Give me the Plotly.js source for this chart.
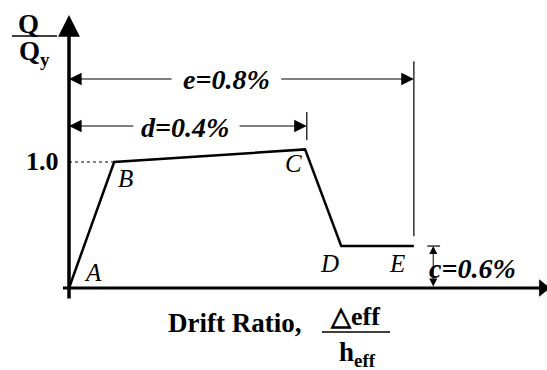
<!DOCTYPE html>
<html>
<head>
<meta charset="utf-8">
<script src="https://cdn.plot.ly/plotly-3.0.1.min.js"></script>
<style>
  html, body { margin: 0; padding: 0; background: #fff; }
  #plot { width: 547px; height: 370px; }
</style>
</head>
<body>
<div id="plot"></div>
<script>
// schematic backbone curve, drift in sketch units, force normalised by Qy
const pointLabels = ['A', 'B', 'C', 'D', 'E'];
const driftX = [0, 0.105, 0.549, 0.633, 0.802];
const forceY = [0, 1.0, 1.10, 0.333, 0.333];

// dimension labels
const dimD = 'd=0.4%';
const dimE = 'e=0.8%';
const dimC = 'c=0.6%';
const yieldTick = '1.0';

const W = 547;
const H = 370;
const FONT = 'Liberation Serif';

// axis ranges chosen so that the sketch fills the frame (no margins)
const xRange = [-0.1605, 1.1116];
const yRange = [-0.651, 2.286];

// paper position from pixel position
function at (px, py) {
  return { xref: 'paper', yref: 'paper', x: px / W, y: 1 - py / H };
}

function label (px, py, text, size, extra) {
  return Object.assign(at(px, py), {
    text,
    showarrow: false,
    xanchor: 'center',
    yanchor: 'middle',
    font: { family: FONT, size, color: '#000' }
  }, extra || {});
}

// arrow drawn in data coordinates, head at (x, y), tail at (ax, ay)
function arrow (x, y, ax, ay, width, size, extra) {
  return Object.assign({
    xref: 'x', yref: 'y', axref: 'x', ayref: 'y',
    x, y, ax, ay,
    text: '',
    showarrow: true,
    arrowhead: 2,
    arrowwidth: width,
    arrowsize: size,
    arrowcolor: '#000',
    standoff: 0,
    startstandoff: 0
  }, extra || {});
}

const black = '#000';
const xAxisEnd = 1.102;

const traces = [
  {
    x: driftX,
    y: forceY,
    mode: 'lines',
    line: { color: black, width: 2.5 },
    hoverinfo: 'skip'
  },
  // dotted yield level
  {
    x: [0, driftX[1]],
    y: [forceY[1], forceY[1]],
    mode: 'lines',
    line: { color: black, width: 1.2, dash: 'dot' },
    hoverinfo: 'skip'
  },
  // d limit tick above C
  {
    x: [driftX[2] + 0.004, driftX[2] + 0.004],
    y: [1.175, 1.397],
    mode: 'lines',
    line: { color: black, width: 1.2 },
    hoverinfo: 'skip'
  },
  // e limit line above E
  {
    x: [driftX[4], driftX[4]],
    y: [0.41, 1.80],
    mode: 'lines',
    line: { color: black, width: 1.2 },
    hoverinfo: 'skip'
  },
  // c tick at residual level
  {
    x: [0.833, 0.863],
    y: [forceY[4], forceY[4]],
    mode: 'lines',
    line: { color: black, width: 1.2 },
    hoverinfo: 'skip'
  },
  // x axis with its arrowhead running off the edge
  {
    x: [-0.014, xAxisEnd],
    y: [0, 0],
    mode: 'lines',
    line: { color: black, width: 3.2 },
    cliponaxis: false,
    hoverinfo: 'skip'
  },
  {
    x: [xAxisEnd],
    y: [0],
    mode: 'markers',
    marker: { symbol: 'triangle-right', size: 15, color: black },
    cliponaxis: false,
    hoverinfo: 'skip'
  }
];

const dY = 1.286;
const eY = 1.659;
const cX = 0.847;

const annotations = [
  // y axis
  arrow(0, 2.167, 0, -0.095, 3.5, 1.25),
  // e dimension
  arrow(0, eY, 0.242, eY, 1.2, 2.1),
  arrow(driftX[4], eY, 0.49, eY, 1.2, 2.1),
  // d dimension
  arrow(0, dY, 0.153, dY, 1.2, 2.1),
  arrow(driftX[2] + 0.004, dY, 0.393, dY, 1.2, 2.1),
  // c dimension
  arrow(cX, forceY[4], cX, 0, 1, 1.6, { arrowside: 'end+start' }),

  label(226, 79, '<b><i>' + dimE + '</i></b>', 28),
  label(185, 127, '<b><i>' + dimD + '</i></b>', 28),
  label(472, 268, '<b><i>' + dimC + '</i></b>', 28),
  label(42, 161, '<b>' + yieldTick + '</b>', 26),

  // y title
  label(29, 24, '<b>Q</b>', 27),
  label(34, 53, '<b>Q<sub>y</sub></b>', 27),

  // x title
  label(234, 323, '<b>Drift Ratio,</b>', 27),
  label(355, 316, '<b>△eff</b>', 26),
  label(357, 354, '<b>h<sub>eff</sub></b>', 27)
];

// point letters, offset from each vertex
const letterShift = [[24, 15], [11, -16], [-12, -14], [-12, -17], [-17, -17]];
pointLabels.forEach((name, i) => {
  annotations.push({
    xref: 'x', yref: 'y',
    x: driftX[i], y: forceY[i],
    xshift: letterShift[i][0], yshift: letterShift[i][1],
    text: '<i>' + name + '</i>',
    showarrow: false,
    font: { family: FONT, size: 25, color: black }
  });
});

const layout = {
  width: W,
  height: H,
  margin: { l: 0, r: 0, t: 0, b: 0 },
  paper_bgcolor: '#fff',
  plot_bgcolor: '#fff',
  showlegend: false,
  xaxis: { visible: false, range: xRange, fixedrange: true },
  yaxis: { visible: false, range: yRange, fixedrange: true },
  annotations,
  shapes: [
    // fraction bars of the axis titles
    { type: 'line', xref: 'paper', yref: 'paper', x0: 12 / W, x1: 57 / W, y0: 1 - 36 / H, y1: 1 - 36 / H, line: { color: black, width: 1.5 } },
    { type: 'line', xref: 'paper', yref: 'paper', x0: 322 / W, x1: 390 / W, y0: 1 - 332 / H, y1: 1 - 332 / H, line: { color: black, width: 1.5 } }
  ]
};

Plotly.newPlot('plot', traces, layout, { displayModeBar: false, staticPlot: true });
</script>
</body>
</html>
